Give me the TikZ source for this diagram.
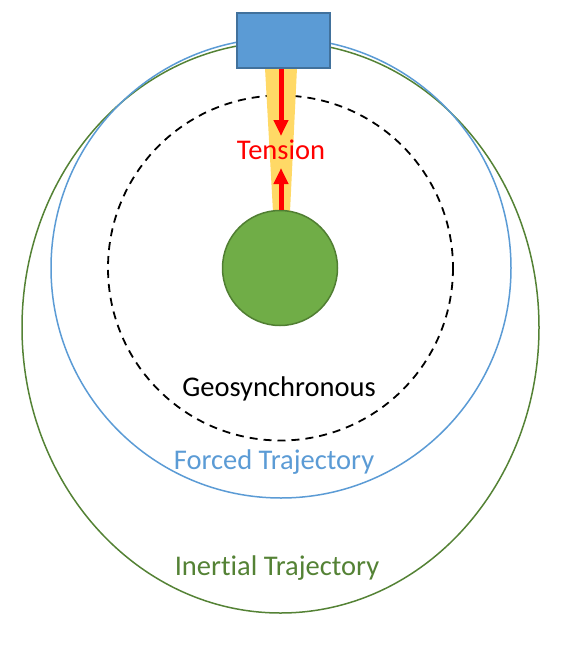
\documentclass[tikz,border=0pt]{standalone}
\usepackage{fontspec}
\setmainfont[RawFeature={-liga}]{Carlito}
\usetikzlibrary{arrows.meta}
\definecolor{boxblue}{HTML}{5B9BD5}
\definecolor{boxedge}{HTML}{41719C}
\definecolor{earth}{HTML}{70AD47}
\definecolor{earthedge}{HTML}{507E32}
\definecolor{inertial}{HTML}{548235}
\definecolor{tether}{HTML}{FFD966}
\begin{document}
\begin{tikzpicture}[x=1pt,y=-1pt,
  label/.style={font=\fontsize{28.5}{34}\selectfont,inner sep=0pt},
  pull/.style={red,line width=5pt,-{Triangle[length=16pt,width=14pt]}}]
            \useasboundingbox (0,0) rectangle (561,645);

            \draw[inertial,line width=1.5pt] (280.5,327.5) ellipse [x radius=258.5,y radius=285.5];
            \draw[boxblue,line width=1.5pt] (281,268) circle [radius=230];
            \draw[black,line width=1.8pt,dash pattern=on 8pt off 6pt] (280.5,268) circle [radius=172.5];

            \fill[tether] (265,68) -- (297,68) -- (290,212) -- (273,212) -- cycle;
            \node[draw=boxedge,fill=boxblue,line width=1.5pt,minimum width=93pt,minimum height=55pt,inner sep=0pt] (station) at (283.5,40.5) {};
            \node[circle,draw=earthedge,fill=earth,line width=1.5pt,minimum size=115pt,inner sep=0pt] (earth) at (280,268) {};

            \coordinate (tipa) at (281,136);
            \coordinate (tipb) at (281,168);
            \draw[pull] (station.south -| tipa) -- (tipa);
            \draw[pull] (earth.north -| tipb) -- (tipb);

            \node[label,red] (tension) at (281,150) {Tension};
            \node[label] (geo) at (279,389) {Geosynchronous};
            \node[label,boxblue] (forced) at (274,462) {Forced Trajectory};
            \node[label,inertial] (inert) at (277,568) {Inertial Trajectory};
        \end{tikzpicture}
\end{document}
